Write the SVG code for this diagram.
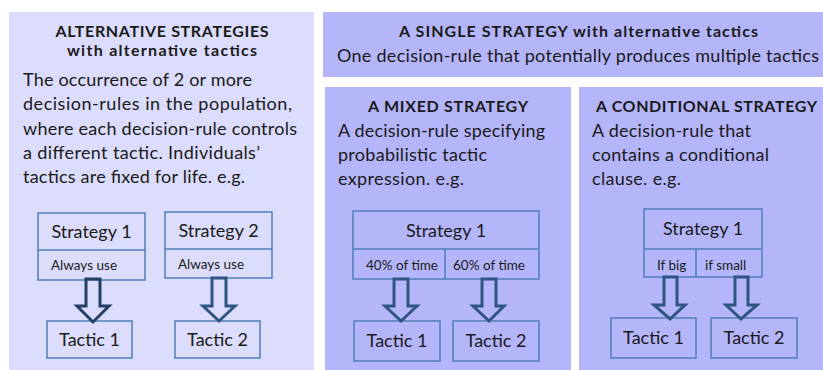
<svg xmlns="http://www.w3.org/2000/svg" width="823" height="370" viewBox="0 0 823 370">
<style>
text{font-family:Lato,"Open Sans","Liberation Sans",sans-serif;fill:#1a1a1a}
.t{font-weight:bold;font-size:16px;text-anchor:middle}
.b{font-size:18px}
.s{font-size:18px;text-anchor:middle}
.sm{font-size:13.5px}
.tc{font-size:18px;text-anchor:middle}
.box{fill:none;stroke:#4f7fb8;stroke-width:1.5}
.arr{fill:none;stroke:#2f5583;stroke-width:3;stroke-linejoin:miter}
</style>
<rect width="823" height="370" fill="#ffffff"/>
<g id="panel-alternative">
<rect x="9" y="12" width="305" height="358" fill="#dcdcfc"/>
<text class="t" x="162" y="37" textLength="213" lengthAdjust="spacing">ALTERNATIVE STRATEGIES</text>
<text class="t" x="162" y="56" textLength="190" lengthAdjust="spacing">with alternative tactics</text>
<text class="b" x="23" y="86" textLength="229" lengthAdjust="spacing">The occurrence of 2 or more</text>
<text class="b" x="23" y="110" textLength="269" lengthAdjust="spacing">decision-rules in the population,</text>
<text class="b" x="23" y="135" textLength="274" lengthAdjust="spacing">where each decision-rule controls</text>
<text class="b" x="23" y="159" textLength="237" lengthAdjust="spacing">a different tactic. Individuals’</text>
<text class="b" x="23" y="183" textLength="222" lengthAdjust="spacing">tactics are fixed for life. e.g.</text>
</g>
<g id="panel-single">
<rect x="323" y="12" width="500" height="65" fill="#b5b5fa"/>
<text class="t" x="578.5" y="37" textLength="359" lengthAdjust="spacing">A SINGLE STRATEGY with alternative tactics</text>
<text class="b" x="337" y="62" textLength="482" lengthAdjust="spacing">One decision-rule that potentially produces multiple tactics</text>
</g>
<g id="panel-mixed">
<rect x="325" y="87" width="246" height="283" fill="#b5b5fa"/>
<text class="t" x="448" y="112" textLength="160" lengthAdjust="spacing">A MIXED STRATEGY</text>
<text class="b" x="338" y="137" textLength="207" lengthAdjust="spacing">A decision-rule specifying</text>
<text class="b" x="338" y="161" textLength="149" lengthAdjust="spacing">probabilistic tactic</text>
<text class="b" x="338" y="185" textLength="126" lengthAdjust="spacing">expression. e.g.</text>
</g>
<g id="panel-conditional">
<rect x="579" y="87" width="244" height="283" fill="#b5b5fa"/>
<text class="t" x="706.5" y="112" textLength="221" lengthAdjust="spacing">A CONDITIONAL STRATEGY</text>
<text class="b" x="592" y="137" textLength="159" lengthAdjust="spacing">A decision-rule that</text>
<text class="b" x="592" y="161" textLength="177" lengthAdjust="spacing">contains a conditional</text>
<text class="b" x="592" y="185" textLength="89" lengthAdjust="spacing">clause. e.g.</text>
</g>
<g id="alt-strategy1">
<rect class="box" x="38" y="213" width="107" height="67"/>
<line class="box" x1="38" y1="250" x2="145" y2="250"/>
<text class="s" x="91.5" y="238">Strategy 1</text>
<text class="sm" x="51" y="270">Always use</text>
</g>
<g id="alt-strategy2">
<rect class="box" x="165" y="212" width="107" height="66"/>
<line class="box" x1="165" y1="249" x2="272" y2="249"/>
<text class="s" x="218.5" y="237">Strategy 2</text>
<text class="sm" x="178" y="269">Always use</text>
</g>
<g id="alt-tactic1">
<rect class="box" x="47" y="321" width="85" height="37"/>
<text class="tc" x="89.5" y="346">Tactic 1</text>
</g>
<g id="alt-tactic2">
<rect class="box" x="175" y="321" width="85" height="37"/>
<text class="tc" x="217.5" y="346">Tactic 2</text>
</g>
<g id="mixed-strategy">
<rect class="box" x="353" y="211" width="186" height="68"/>
<line class="box" x1="353" y1="249" x2="539" y2="249"/>
<line class="box" x1="445" y1="249" x2="445" y2="279"/>
<text class="s" x="446" y="237">Strategy 1</text>
<text class="sm" x="366" y="270">40% of time</text>
<text class="sm" x="453" y="270">60% of time</text>
</g>
<g id="mixed-tactic1">
<rect class="box" x="354" y="321" width="86" height="40"/>
<text class="tc" x="397" y="347">Tactic 1</text>
</g>
<g id="mixed-tactic2">
<rect class="box" x="453" y="321" width="86" height="40"/>
<text class="tc" x="496" y="347">Tactic 2</text>
</g>
<g id="cond-strategy">
<rect class="box" x="644" y="209" width="118" height="68"/>
<line class="box" x1="644" y1="249" x2="762" y2="249"/>
<line class="box" x1="696" y1="249" x2="696" y2="277"/>
<text class="s" x="703" y="235">Strategy 1</text>
<text class="sm" x="657" y="270">If big</text>
<text class="sm" x="705" y="270">if small</text>
</g>
<g id="cond-tactic1">
<rect class="box" x="611" y="318" width="85" height="40"/>
<text class="tc" x="653.5" y="344">Tactic 1</text>
</g>
<g id="cond-tactic2">
<rect class="box" x="711" y="318" width="86" height="40"/>
<text class="tc" x="754" y="344">Tactic 2</text>
</g>
<g id="connectors">
<path class="arr" style="stroke:#233f63" d="M86 279 H100 V306 H109 L93 322 L77 306 H86 Z"/>
<path class="arr" d="M212 278 H226 V306 H235 L219 321 L203 306 H212 Z"/>
<path class="arr" d="M394 279 H408 V306 H417 L401 321 L385 306 H394 Z"/>
<path class="arr" d="M482 279 H496 V306 H504 L489 321 L473 306 H482 Z"/>
<path class="arr" d="M664 277 H677 V305 H685 L670 319 L654 305 H664 Z"/>
<path class="arr" d="M735 277 H748 V305 H757 L741 319 L726 305 H735 Z"/>
</g>
</svg>
